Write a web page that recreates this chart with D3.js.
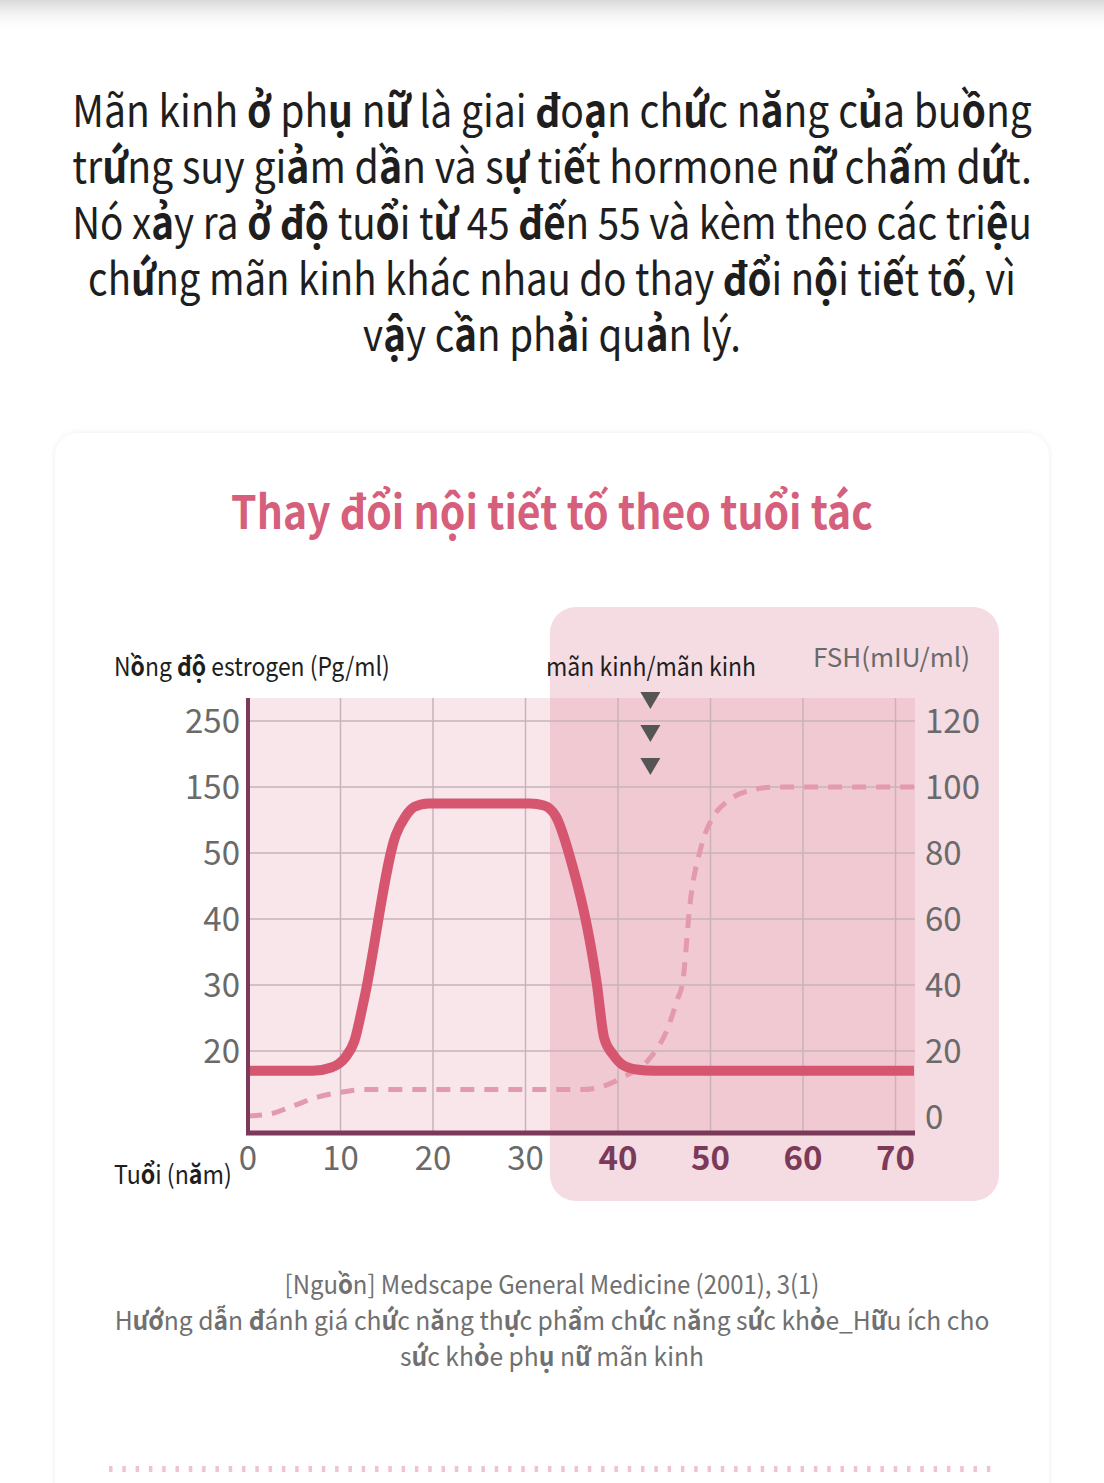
<!DOCTYPE html>
<html><head><meta charset="utf-8">
<script src="https://cdn.jsdelivr.net/npm/d3@7"></script>
<style>html,body{margin:0;padding:0;background:#fff;overflow:hidden} svg{display:block}</style>
</head><body><svg id="c" width="1104" height="1483"></svg>
<script>
// ---------- data ----------
const estrogenAges = [0, 7, 9, 10.5, 11.5, 12.5, 16, 17, 18, 19.5, 30.5, 32, 33.3, 34.8, 37.7, 38.5, 39.5, 40.5, 42, 44, 72];
const estrogenVals = [17, 17, 17.5, 19, 21.5, 27.5, 78, 105, 120, 125, 125, 122, 105, 49.4, 30.3, 22, 19.4, 17.9, 17.2, 17, 17];
const fshAges = [0, 2.5, 5, 7.5, 10, 12.5, 36, 38, 40.5, 43.5, 45.3, 46.4, 47, 47.8, 48.9, 49.2, 50.3, 52, 55, 57, 72];
const fshVals = [0.3, 1, 3.5, 6, 7.5, 8.3, 8.3, 9, 12, 18, 26.4, 35.5, 41, 65, 81, 84, 91, 96, 99.4, 100, 100];
const xTicks = [0, 10, 20, 30, 40, 50, 60, 70];
const menopauseTicks = [40, 50, 60, 70];
const estrogenTicks = [250, 150, 50, 40, 30, 20];
const estrogenLevels = [10, 20, 30, 40, 50, 150, 250];
const fshTicks = [120, 100, 80, 60, 40, 20, 0];
const fshLevels = [0, 20, 40, 60, 80, 100, 120];
const menopauseAge = 43.5;
const menopauseMarkers = [0, 1, 2];

const introLines = [
  "Mãn kinh ở phụ nữ là giai đoạn chức năng của buồng",
  "trứng suy giảm dần và sự tiết hormone nữ chấm dứt.",
  "Nó xảy ra ở độ tuổi từ 45 đến 55 và kèm theo các triệu",
  "chứng mãn kinh khác nhau do thay đổi nội tiết tố, vì",
  "vậy cần phải quản lý."
];
const introWidths = [960, 960, 960, 928, 378];
const titleText = "Thay đổi nội tiết tố theo tuổi tác";
const leftLabel = "Nồng độ estrogen (Pg/ml)";
const rightLabel = "FSH(mIU/ml)";
const xLabel = "Tuổi (năm)";
const menoLabel = "mãn kinh/mãn kinh";
const sourceLines = [
  "[Nguồn] Medscape General Medicine (2001), 3(1)",
  "Hướng dẫn đánh giá chức năng thực phẩm chức năng sức khỏe_Hữu ích cho",
  "sức khỏe phụ nữ mãn kinh"
];
const sourceWidths = [535, 875, 304];

// ---------- setup ----------
const FONT = "'Noto Sans CJK KR', 'Noto Sans', sans-serif";
const svg = d3.select("#c").style("font-family", FONT);
const defs = svg.append("defs");

const g0 = defs.append("linearGradient").attr("id","topShade").attr("x1",0).attr("y1",0).attr("x2",0).attr("y2",1);
g0.append("stop").attr("offset","0%").attr("stop-color","#d9d9d9");
g0.append("stop").attr("offset","100%").attr("stop-color","#ffffff").attr("stop-opacity",0);
const f = defs.append("filter").attr("id","cardShadow").attr("x","-5%").attr("y","-5%").attr("width","110%").attr("height","110%");
f.append("feDropShadow").attr("dx",0).attr("dy",0).attr("stdDeviation",3).attr("flood-color","#000").attr("flood-opacity",0.07);

svg.append("rect").attr("x",0).attr("y",0).attr("width",1104).attr("height",34).attr("fill","url(#topShade)");

// rich text: chars outside Latin-1 rendered bold (as in the reference)
function rich(sel, str, boldAll) {
  const runs = [];
  for (const ch of str) {
    const b = boldAll || ch.codePointAt(0) > 0xFF;
    if (runs.length && runs[runs.length-1].b === b) runs[runs.length-1].t += ch;
    else runs.push({t: ch, b});
  }
  runs.forEach(r => sel.append("tspan").attr("font-weight", r.b ? 700 : 400).text(r.t));
  return sel;
}
// horizontally condense a text to the reference width, around its anchor x
function fit(sel, target) {
  const w = sel.node().getBBox().width;
  if (!w) return sel;
  const s = target / w;
  const ax = +sel.attr("x");
  sel.attr("transform", `translate(${ax},0) scale(${s},1) translate(${-ax},0)`);
  return sel;
}

// intro paragraph
introLines.forEach((l, i) => {
  const t = svg.append("text").attr("x", 552).attr("y", 127 + i*56)
    .attr("text-anchor","middle").attr("font-size", 44).attr("fill","#1e1e1e");
  rich(t, l);
  fit(t, introWidths[i]);
});

// card
svg.append("rect").attr("x",55).attr("y",433).attr("width",994).attr("height",1200)
  .attr("rx",24).attr("fill","#fff").attr("filter","url(#cardShadow)");

fit(svg.append("text").attr("x",552).attr("y",529).attr("text-anchor","middle")
  .attr("font-size",46).attr("font-weight",700).attr("fill","#d65f7c").text(titleText), 642);

// ---------- scales ----------
const x = d3.scaleLinear().domain([0, 72]).range([248, 914]);
const yF = d3.scaleLinear().domain([0, 120]).range([1117, 721]);
const yE = d3.scaleLinear().domain(estrogenLevels).range(fshLevels.map(yF));
const plotTop = 698, plotBottom = 1133, plotLeft = x(0), plotRight = 915;

// menopause zone
svg.append("rect").attr("x", 550).attr("y", 607).attr("width", 449).attr("height", 594)
  .attr("rx", 26).attr("fill", "#f5dbe2");

// plot background (translucent)
svg.append("rect").attr("x", plotLeft).attr("y", plotTop).attr("width", plotRight - plotLeft)
  .attr("height", plotBottom - plotTop).attr("fill", "rgb(220,130,155)").attr("fill-opacity", 0.2);

// grid
const grid = svg.append("g").attr("stroke", "#c9b2ba").attr("stroke-width", 1.5);
grid.selectAll(".h").data(estrogenTicks).join("line")
  .attr("x1", plotLeft).attr("x2", plotRight).attr("y1", d => yE(d)).attr("y2", d => yE(d));
grid.selectAll(".v").data(xTicks.filter(d => d > 0)).join("line")
  .attr("x1", d => x(d)).attr("x2", d => x(d)).attr("y1", plotTop).attr("y2", plotBottom);

// lines
const fshLine = d3.line().x(d => x(d[0])).y(d => yF(d[1])).curve(d3.curveMonotoneX);
svg.append("path").datum(d3.zip(fshAges, fshVals)).attr("d", fshLine)
  .attr("fill", "none").attr("stroke", "#e39aad").attr("stroke-width", 5).attr("stroke-dasharray", "14,10");

const eLine = d3.line().x(d => x(d[0])).y(d => yE(d[1])).curve(d3.curveMonotoneX);
svg.append("path").datum(d3.zip(estrogenAges, estrogenVals)).attr("d", eLine)
  .attr("fill", "none").attr("stroke", "#d6566f").attr("stroke-width", 10).attr("stroke-linejoin", "round");

// axes lines
const axisColor = "#7b3a59";
svg.append("line").attr("x1", plotLeft).attr("x2", plotLeft).attr("y1", plotTop).attr("y2", plotBottom + 2)
  .attr("stroke", axisColor).attr("stroke-width", 4);
svg.append("line").attr("x1", plotLeft - 2).attr("x2", plotRight).attr("y1", plotBottom).attr("y2", plotBottom)
  .attr("stroke", axisColor).attr("stroke-width", 5);

// left ticks
svg.append("g").selectAll("text").data(estrogenTicks).join("text")
  .attr("x", 240).attr("y", d => yE(d)).attr("dy", "0.36em").attr("text-anchor", "end")
  .attr("font-size", 33).attr("fill", "#6a6a6a").text(d => d);
// right ticks
svg.append("g").selectAll("text").data(fshTicks).join("text")
  .attr("x", 925).attr("y", d => yF(d)).attr("dy", "0.36em").attr("text-anchor", "start")
  .attr("font-size", 33).attr("fill", "#6a6a6a").text(d => d);
// bottom ticks
svg.append("g").selectAll("text").data(xTicks).join("text")
  .attr("x", d => x(d)).attr("y", 1170).attr("text-anchor", "middle")
  .attr("font-size", 33)
  .attr("font-weight", d => menopauseTicks.includes(d) ? 700 : 400)
  .attr("fill", d => menopauseTicks.includes(d) ? axisColor : "#6a6a6a").text(d => d);

// axis labels
fit(rich(svg.append("text").attr("x", 114).attr("y", 676).attr("font-size", 26).attr("fill", "#1e1e1e"), leftLabel), 276);
fit(rich(svg.append("text").attr("x", 114).attr("y", 1184).attr("font-size", 26).attr("fill", "#1e1e1e"), xLabel), 118);
fit(svg.append("text").attr("x", 546).attr("y", 676).attr("font-size", 26).attr("fill", "#1e1e1e").text(menoLabel), 210);
svg.append("text").attr("x", 970).attr("y", 667).attr("text-anchor", "end").attr("font-size", 26)
  .attr("fill", "#6a6a6a").text(rightLabel);

// menopause markers (down triangles)
const mx = x(menopauseAge);
svg.append("g").selectAll("path").data(menopauseMarkers).join("path")
  .attr("d", d => { const top = 692 + d * 33; return `M${mx-10},${top}L${mx+10},${top}L${mx},${top+17}Z`; })
  .attr("fill", "#555");

// source
sourceLines.forEach((l, i) => {
  fit(rich(svg.append("text").attr("x", 552).attr("y", 1294 + i*36).attr("text-anchor", "middle")
    .attr("font-size", 26).attr("fill", "#707070"), l), sourceWidths[i]);
});

// dotted divider
svg.append("line").attr("x1", 109).attr("x2", 997).attr("y1", 1469).attr("y2", 1469)
  .attr("stroke", "#efc3cf").attr("stroke-width", 6).attr("stroke-dasharray", "3.5,9.8");
</script></body></html>
